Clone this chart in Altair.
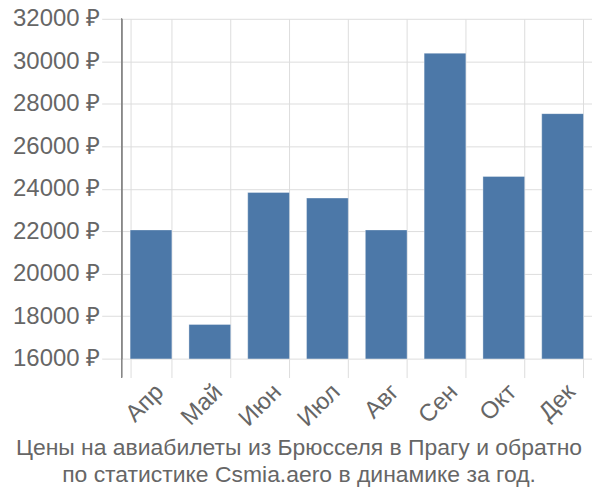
import altair as alt
import pandas as pd

months = ["Апр", "Май", "Июн", "Июл", "Авг", "Сен", "Окт", "Дек"]
prices = [22060, 17610, 23825, 23560, 22060, 30380, 24580, 27535]
y_ticks = [16000, 18000, 20000, 22000, 24000, 26000, 28000, 30000, 32000]
title_lines = ["Цены на авиабилеты из Брюсселя в Прагу и обратно",
               "по статистике Csmia.aero в динамике за год."]

df = pd.DataFrame({"month": months, "price": prices})

font = "Liberation Sans"
fs = 24
H = 341

bars = alt.Chart(df).mark_bar(
    color="#4c78a8", stroke="#ffffff", strokeOpacity=0.35, strokeWidth=1, clip=True
).encode(
    x=alt.X("month:N", sort=months, title=None,
            scale=alt.Scale(paddingInner=0.29, paddingOuter=0.145),
            axis=alt.Axis(labelAngle=315, labelAlign="right", labelBaseline="top",
                          labelFontSize=fs, labelColor="#666666", labelFont=font,
                          labelPadding=2,
                          tickBand="extent", tickSize=19, tickColor="#dddddd",
                          grid=True, gridColor="#dddddd", domain=False)),
    y=alt.Y("price:Q", title=None,
            scale=alt.Scale(domain=[16000, 32000], nice=False, zero=False),
            axis=alt.Axis(values=y_ticks, labelExpr="datum.value + ' ₽'",
                          labelFontSize=fs, labelColor="#666666", labelFont=font,
                          tickSize=20, tickColor="#dddddd", gridColor="#dddddd",
                          domainColor="#888888", labelPadding=2)),
)

left_line = alt.Chart(df).mark_rule(color="#888888", strokeWidth=1).encode(
    x=alt.value(0), y=alt.value(0), y2=alt.value(H + 19)
)

chart = alt.layer(bars, left_line).properties(
    width=472, height=H,
    autosize=alt.AutoSizeParams(type="none"),
    padding={"left": 114, "top": 10, "right": 0, "bottom": 133},
    title=alt.TitleParams(text=title_lines, orient="bottom", anchor="middle",
                          fontSize=23, font=font, color="#666666", fontWeight="normal",
                          lineHeight=27, dx=-58, offset=6),
).configure_view(stroke=None)

chart.save("out.html", embed_options={"renderer": "svg", "actions": False})
